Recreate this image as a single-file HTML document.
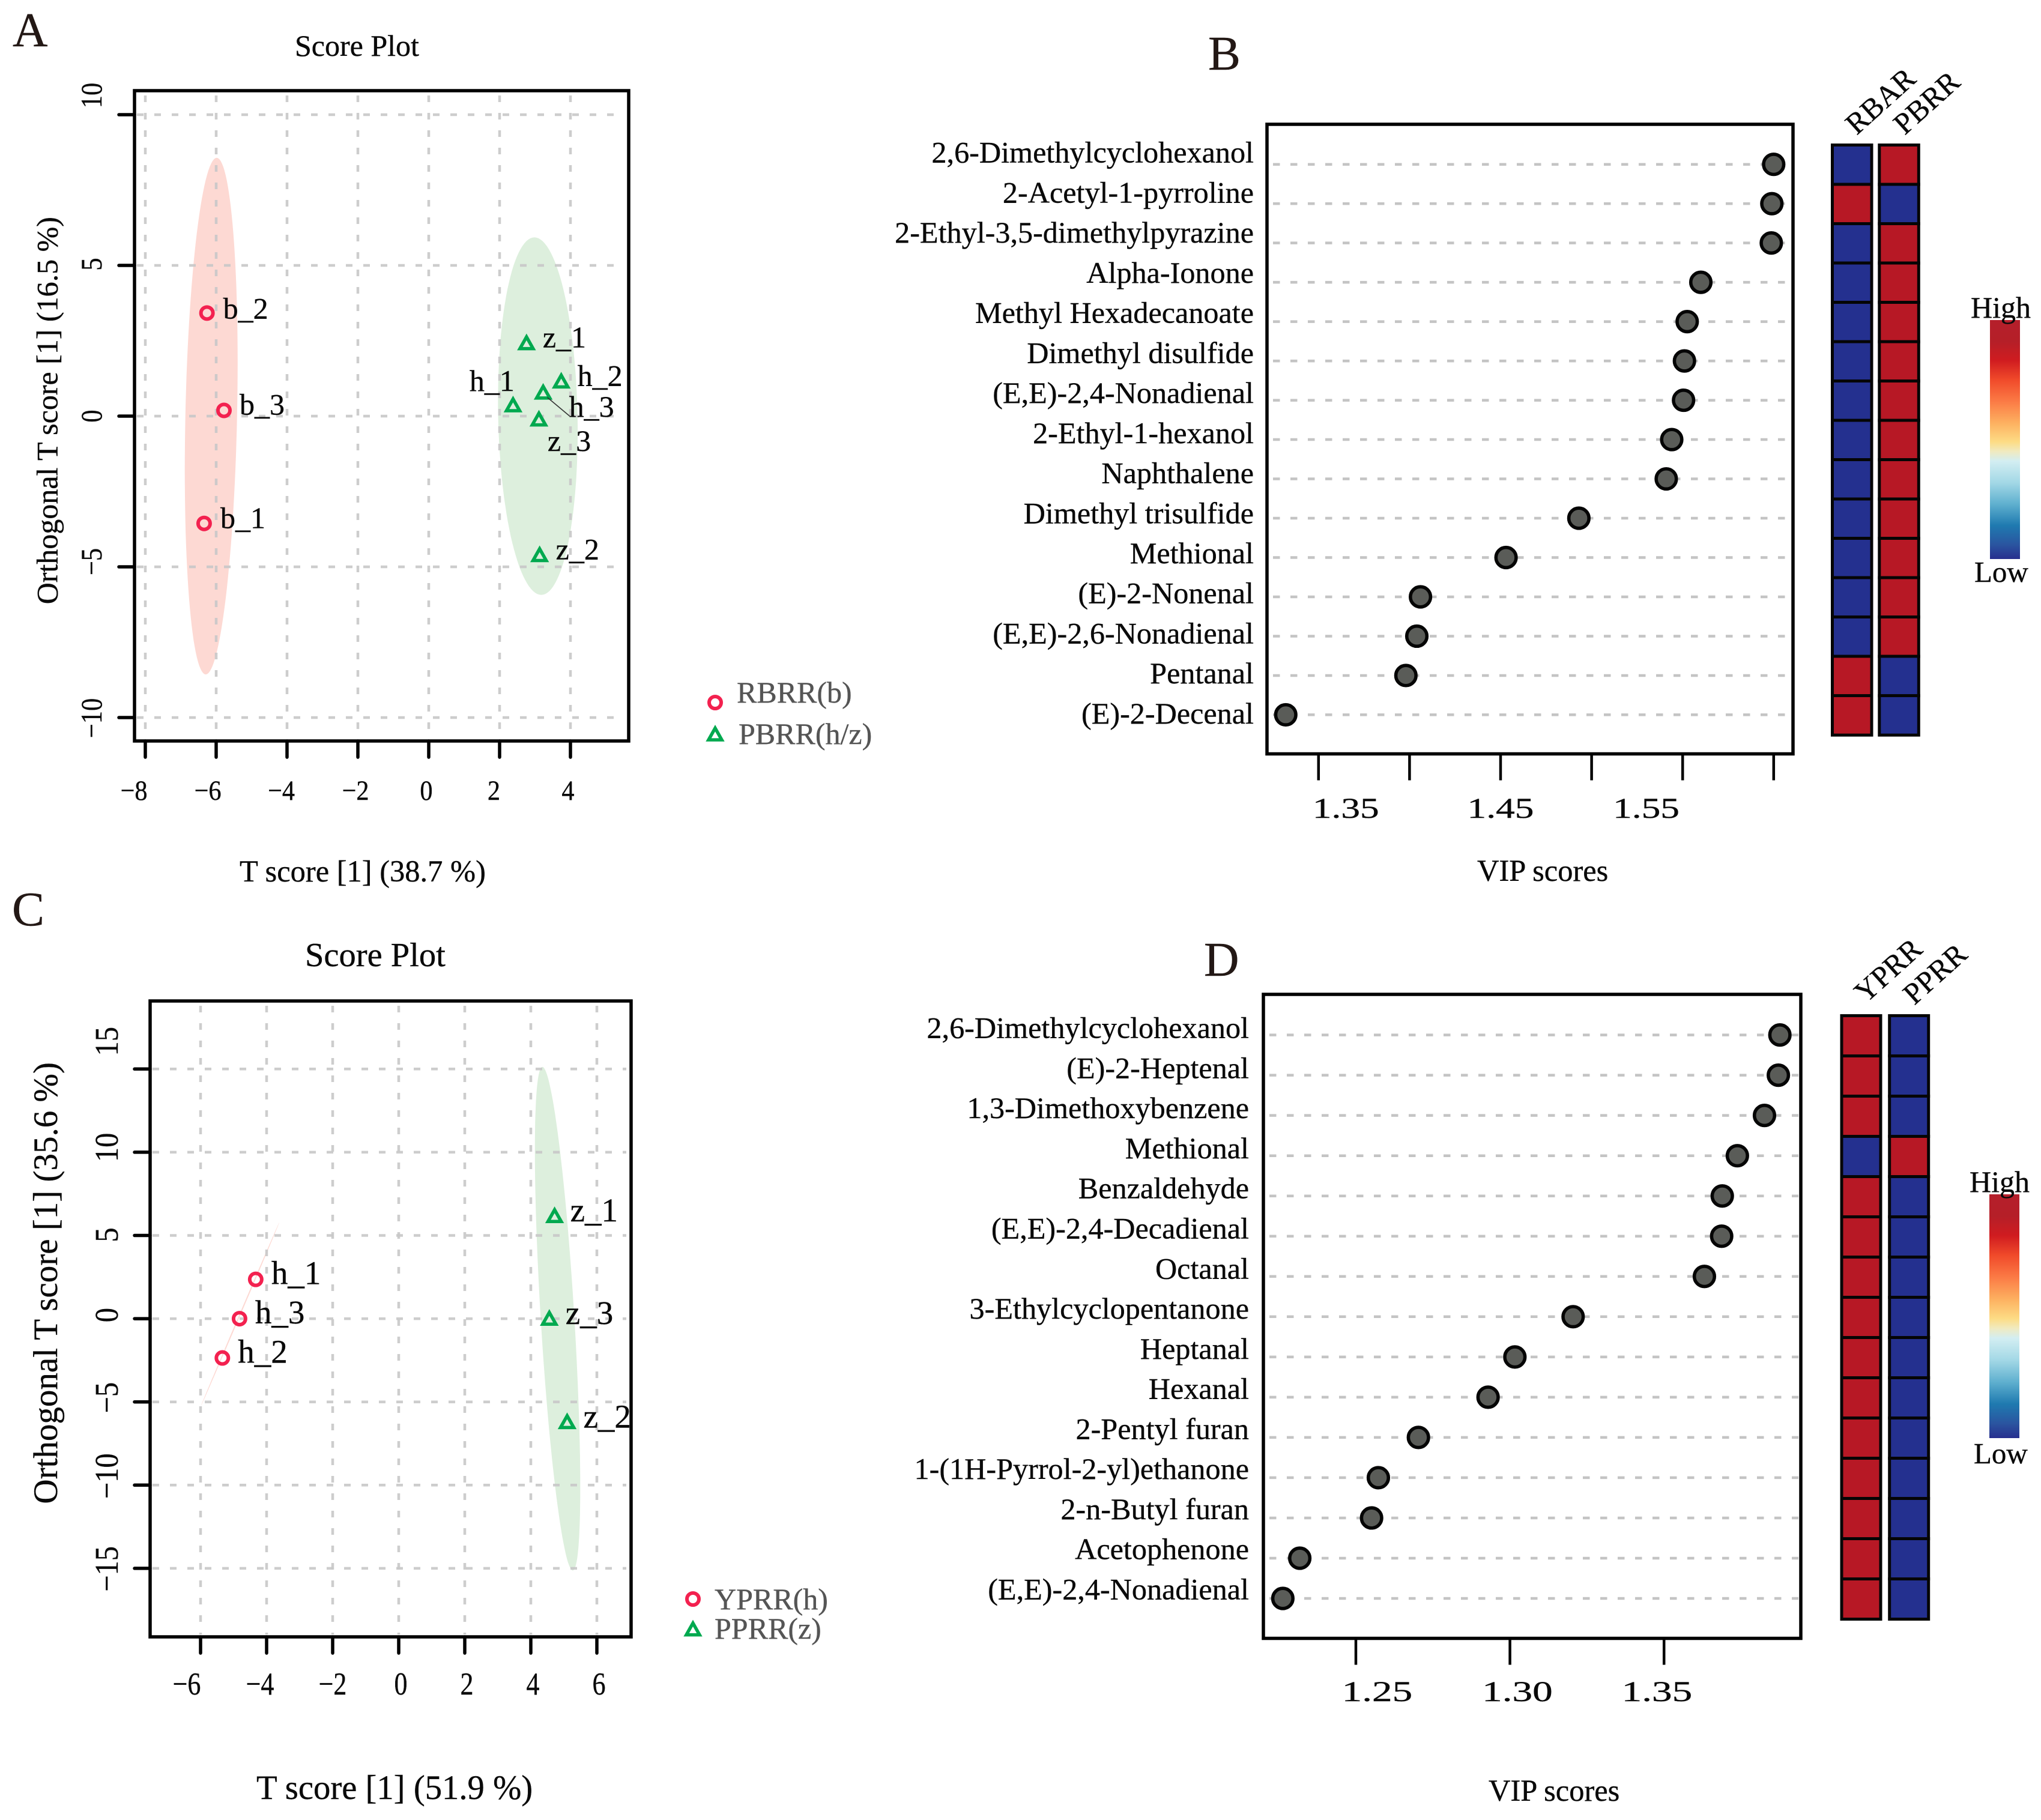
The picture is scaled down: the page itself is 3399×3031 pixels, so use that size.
<!DOCTYPE html>
<html lang="en">
<head>
<meta charset="utf-8">
<title>Score plots and VIP scores</title>
<style>
html,body{margin:0;padding:0;background:#fff;}
svg{display:block;font-family:"Liberation Serif",serif;}
text{fill:#0a0a0a;stroke:#0a0a0a;stroke-width:.4px;}
.panel-letter{font-size:81px;fill:#231815;stroke:#231815;}
.legend-text{font-size:50px;fill:#555;stroke:#555;}
</style>
</head>
<body>
<svg id="figure" xmlns="http://www.w3.org/2000/svg" width="3399" height="3031" viewBox="0 0 3399 3031">
<defs>
<linearGradient id="cb" x1="0" y1="0" x2="0" y2="1">
<stop offset="0" stop-color="#b51f2b"/><stop offset=".09" stop-color="#b51f28"/><stop offset=".17" stop-color="#d01c20"/><stop offset=".25" stop-color="#f04a2a"/><stop offset=".34" stop-color="#fb7a45"/><stop offset=".43" stop-color="#fdb060"/><stop offset=".51" stop-color="#fddc85"/><stop offset=".55" stop-color="#f0eac0"/><stop offset=".59" stop-color="#d3eef2"/><stop offset=".68" stop-color="#a3d8e6"/><stop offset=".77" stop-color="#5fb0cf"/><stop offset=".86" stop-color="#1f7ab0"/><stop offset=".94" stop-color="#2a55a0"/><stop offset="1" stop-color="#282f8e"/>
</linearGradient>
</defs>
<rect width="3399" height="3031" fill="#fff"/>

<text class="panel-letter" x="21" y="77">A</text>
<text class="panel-letter" x="2012" y="116">B</text>
<text class="panel-letter" x="20" y="1541">C</text>
<text class="panel-letter" x="2005" y="1625">D</text>

<text x="491" y="93" font-size="50">Score Plot</text>
<text x="399" y="1468" font-size="50.5">T score [1] (38.7 %)</text>
<text x="95.7" y="683.7" font-size="50" text-anchor="middle" transform="rotate(-90 95.7 683.7)">Orthogonal T score [1] (16.5 %)</text>
<text class="legend-text" x="1227" y="1170">RBRR(b)</text>
<text class="legend-text" x="1230" y="1239">PBRR(h/z)</text>

<text x="508" y="1609" font-size="56.5">Score Plot</text>
<text x="427" y="2996" font-size="56.7">T score [1] (51.9 %)</text>
<text x="95" y="2136.8" font-size="57" text-anchor="middle" transform="rotate(-90 95 2136.8)">Orthogonal T score [1] (35.6 %)</text>
<text class="legend-text" x="1190" y="2680">YPRR(h)</text>
<text class="legend-text" x="1190" y="2729">PPRR(z)</text>

<text x="2460" y="1467" font-size="50.5">VIP scores</text>
<text x="2479" y="2999" font-size="50.5">VIP scores</text>

<text x="3092" y="226" font-size="50" transform="rotate(-42 3092 226)">RBAR</text>
<text x="3172" y="226" font-size="50" transform="rotate(-42 3172 226)">PBRR</text>
<text x="3107" y="1672" font-size="50" transform="rotate(-42 3107 1672)">YPRR</text>
<text x="3188" y="1675" font-size="50" transform="rotate(-42 3188 1675)">PPRR</text>

<rect x="3314" y="533" width="50" height="398" fill="url(#cb)"/>
<text x="3282" y="529" font-size="50">High</text>
<text x="3288" y="969" font-size="49">Low</text>
<rect x="3313" y="1989" width="50" height="406" fill="url(#cb)"/>
<text x="3280" y="1985" font-size="50">High</text>
<text x="3287" y="2437" font-size="49">Low</text>
</svg>

<script>
/* ---------- Panel A data ---------- */
const scoreANames = ['b_1','b_2','b_3','h_1','h_2','h_3','z_1','z_2','z_3'];
const scoreAGroups = ['red','red','red','green','green','green','green','green','green'];
const scoreAX = [-6.34,-6.26,-5.78,2.38,3.74,3.23,2.76,3.13,3.11];
const scoreAY = [-3.56,3.42,0.19,0.40,1.19,0.82,2.46,-4.57,-0.07];
const scoreAXTicks = [-8,-6,-4,-2,0,2,4];
const scoreAYTicks = [-10,-5,0,5,10];
const scoreAXTickLabels = ['−8','−6','−4','−2','0','2','4'];
const scoreAYTickLabels = ['−10','−5','0','5','10'];
/* ellipse: centre x, centre y, major-axis x component, major-axis y component, minor half width (data units) */
const ellipseARed = [-6.14,0,0.154,8.57,0.73];
const ellipseAGreen = [3.08,0,-0.097,5.93,1.12];

/* ---------- Panel C data ---------- */
const scoreCNames = ['h_1','h_2','h_3','z_1','z_2','z_3'];
const scoreCGroups = ['red','red','red','green','green','green'];
const scoreCX = [-4.33,-5.34,-4.82,4.72,5.10,4.56];
const scoreCY = [2.36,-2.36,0,6.24,-6.14,0.07];
const scoreCXTicks = [-6,-4,-2,0,2,4,6];
const scoreCYTicks = [-15,-10,-5,0,5,10,15];
const scoreCXTickLabels = ['−6','−4','−2','0','2','4','6'];
const scoreCYTickLabels = ['−15','−10','−5','0','5','10','15'];
const ellipseCRed = [-4.8,0.28,1.18,5.49,0.02];
const ellipseCGreen = [4.81,0,-0.46,15.13,0.51];

/* ---------- Panel B data ---------- */
const vipBCompounds = ['2,6-Dimethylcyclohexanol','2-Acetyl-1-pyrroline','2-Ethyl-3,5-dimethylpyrazine','Alpha-Ionone','Methyl Hexadecanoate','Dimethyl disulfide','(E,E)-2,4-Nonadienal','2-Ethyl-1-hexanol','Naphthalene','Dimethyl trisulfide','Methional','(E)-2-Nonenal','(E,E)-2,6-Nonadienal','Pentanal','(E)-2-Decenal'];
const vipBScores = [1.600,1.599,1.5987,1.560,1.5525,1.551,1.5505,1.544,1.541,1.493,1.453,1.406,1.404,1.398,1.332];
const vipBTicks = [1.35,1.40,1.45,1.50,1.55,1.60];
const vipBTickLabels = ['1.35','1.45','1.55'];
const vipBTickLabelValues = [1.365,1.45,1.53];
const heatBFirst = [-1,1,-1,-1,-1,-1,-1,-1,-1,-1,-1,-1,-1,1,1];
const heatBSecond = [1,-1,1,1,1,1,1,1,1,1,1,1,1,-1,-1];

/* ---------- Panel D data ---------- */
const vipDCompounds = ['2,6-Dimethylcyclohexanol','(E)-2-Heptenal','1,3-Dimethoxybenzene','Methional','Benzaldehyde','(E,E)-2,4-Decadienal','Octanal','3-Ethylcyclopentanone','Heptanal','Hexanal','2-Pentyl furan','1-(1H-Pyrrol-2-yl)ethanone','2-n-Butyl furan','Acetophenone','(E,E)-2,4-Nonadienal'];
const vipDScores = [1.3876,1.3871,1.3826,1.3738,1.3689,1.3687,1.3631,1.3205,1.3016,1.2929,1.2703,1.2573,1.2551,1.2318,1.2263];
const vipDTicks = [1.25,1.30,1.35];
const vipDTickLabels = ['1.25','1.30','1.35'];
const vipDTickLabelValues = [1.2569,1.3024,1.3477];
const heatDFirst = [1,1,1,-1,1,1,1,1,1,1,1,1,1,1,1];
const heatDSecond = [-1,-1,-1,1,-1,-1,-1,-1,-1,-1,-1,-1,-1,-1,-1];

/* ---------- Helpers ---------- */
const svg = document.getElementById('figure');
const NS = 'http://www.w3.org/2000/svg';
const RED = '#f3214f';
const GREEN = '#00a94f';
const GRIDC = '#c8c8c8';

function make(tag, attrs) {
  const node = document.createElementNS(NS, tag);
  for (const k in attrs) node.setAttribute(k, attrs[k]);
  svg.appendChild(node);
  return node;
}
function squeeze(t, k) {
  if (k !== 1) {
    t.setAttribute('textLength', t.getComputedTextLength() * k);
    t.setAttribute('lengthAdjust', 'spacingAndGlyphs');
  }
}
function drawFrame(prefix, L, T, R, B) {
  const r = make('rect', {x:L, y:T, width:R-L, height:B-T, fill:'none', stroke:'#000', 'stroke-width':5.5});
  
  
}
function drawEllipse(prefix, e, xs, ys, fill) {
  const pts = [];
  for (let i = 0; i < 120; i++) {
    const t = i / 120 * Math.PI * 2;
    const dx = e[0] + e[2] * Math.cos(t) + e[4] * Math.sin(t);
    const dy = e[1] + e[3] * Math.cos(t);
    pts.push(xs(dx).toFixed(1) + ',' + ys(dy).toFixed(1));
  }
  const p = make('polygon', {points:pts.join(' '), fill:fill});
  
  
}
function drawMarker(kind, px, py) {
  if (kind === 'red') {
    return make('circle', {cx:px, cy:py, r:10, fill:'none', stroke:RED, 'stroke-width':6});
  }
  const pts = [[px, py-8.4],[px+11, py+11.1],[px-11, py+11.1]].map(a => a.join(',')).join(' ');
  return make('polygon', {points:pts, fill:'none', stroke:GREEN, 'stroke-width':5.5, 'stroke-linejoin':'miter'});
}

/* ---------- Score plots ---------- */
function drawScorePlot(cfg) {
  const p = cfg.prefix;
  drawEllipse(p + '-red', cfg.ellRed, cfg.xs, cfg.ys, '#fdd9d3');
  drawEllipse(p + '-green', cfg.ellGreen, cfg.xs, cfg.ys, '#ddefdd');

  cfg.xTicks.forEach((v, i) => {
    const g = make('line', {x1:cfg.xs(v), x2:cfg.xs(v), y1:cfg.T+8, y2:cfg.B-4, stroke:GRIDC, 'stroke-width':4.5, 'stroke-dasharray':'11 18', opacity:.9});
    
    
    const tk = make('line', {x1:cfg.xs(v), x2:cfg.xs(v), y1:cfg.B, y2:cfg.B+27, stroke:'#000', 'stroke-width':5.5, 'stroke-linecap':'round'});
    
    
    const t = make('text', {x:cfg.xs(v)+cfg.xLabelShift[i], y:cfg.xLabelY, 'font-size':cfg.xFont, 'text-anchor':'middle'});
    t.textContent = cfg.xLabels[i];
    
    
    squeeze(t, cfg.xSqueeze);
  });
  cfg.yTicks.forEach((v, i) => {
    const g = make('line', {x1:cfg.L+4, x2:cfg.R-8, y1:cfg.ys(v), y2:cfg.ys(v), stroke:GRIDC, 'stroke-width':4.5, 'stroke-dasharray':'11 18', opacity:.9});
    
    
    const tk = make('line', {x1:cfg.L-26, x2:cfg.L, y1:cfg.ys(v), y2:cfg.ys(v), stroke:'#000', 'stroke-width':5.5, 'stroke-linecap':'round'});
    
    
    const cy = cfg.ys(v) + cfg.yLabelShift[i];
    const t = make('text', {x:cfg.yLabelX, y:cy, 'font-size':cfg.yFont, 'text-anchor':'middle', transform:'rotate(-90 '+cfg.yLabelX+' '+cy+')'});
    t.textContent = cfg.yLabels[i];
    
    
    squeeze(t, cfg.ySqueeze);
  });
  drawFrame(p, cfg.L, cfg.T, cfg.R, cfg.B);

  cfg.names.forEach((n, i) => {
    const px = cfg.xs(cfg.x[i]);
    const py = cfg.ys(cfg.y[i]);
    const m = drawMarker(cfg.groups[i], px, py);
    
    
    const o = cfg.nudge[n] || cfg.defaultNudge;
    const t = make('text', {x:px+o[0], y:py+o[1], 'font-size':cfg.pointFont, fill:'#000'});
    t.textContent = n;
    
    
    if (cfg.leader && cfg.leader === n) {
      const l = make('line', {x1:px+7, y1:py+10, x2:px+44, y2:py+41, stroke:'#333', 'stroke-width':1.6});
      
      
    }
  });

  const lc = drawMarker('red', cfg.legendX, cfg.legendRedY);
  
  
  const lt = drawMarker('green', cfg.legendX, cfg.legendGreenY);
  
  
}

drawScorePlot({
  prefix:'panel-a', L:224, T:151, R:1047, B:1234,
  xs:v => 714 + 59 * v, ys:v => 693 - 50.2 * v,
  names:scoreANames, groups:scoreAGroups, x:scoreAX, y:scoreAY,
  xTicks:scoreAXTicks, yTicks:scoreAYTicks, xLabels:scoreAXTickLabels, yLabels:scoreAYTickLabels,
  xLabelShift:[-19,-14,-9.5,-4,-4,-9.5,-4], yLabelShift:[1,-8.5,0,-2,-32],
  xLabelY:1332, yLabelX:169, xFont:47, yFont:50, xSqueeze:.9, ySqueeze:.85,
  ellRed:ellipseARed, ellGreen:ellipseAGreen, pointFont:50,
  defaultNudge:[27,9], nudge:{'b_3':[26,7],'b_1':[27,8],'h_1':[-72.5,-22],'h_3':[43,42],'z_3':[14.4,54.5]},
  leader:'h_3', legendX:1191, legendRedY:1170, legendGreenY:1221
});
drawScorePlot({
  prefix:'panel-c', L:250, T:1667, R:1051, B:2726,
  xs:v => 664 + 55 * v, ys:v => 2196.1 - 27.72 * v,
  names:scoreCNames, groups:scoreCGroups, x:scoreCX, y:scoreCY,
  xTicks:scoreCXTicks, yTicks:scoreCYTicks, xLabels:scoreCXTickLabels, yLabels:scoreCYTickLabels,
  xLabelShift:[-23,-11,0,3.5,3.5,3.5,3.5], yLabelShift:[1,-15,-7,-6,-1,-8,-46],
  xLabelY:2822, yLabelX:196, xFont:53, yFont:55, xSqueeze:.83, ySqueeze:.88,
  ellRed:ellipseCRed, ellGreen:ellipseCGreen, pointFont:55,
  defaultNudge:[26,8], nudge:{'z_1':[26,11],'z_2':[27,11],'z_3':[27,11]},
  leader:null, legendX:1154, legendRedY:2663, legendGreenY:2711.5
});

/* ---------- VIP dot plots with heatmaps ---------- */
function heatColor(v) { return v > 0 ? '#b71825' : '#24308f'; }

function drawVip(cfg) {
  const p = cfg.prefix;
  cfg.names.forEach((n, i) => {
    const ry = cfg.rowY(i);
    const g = make('line', {x1:cfg.L+10, x2:cfg.R-4, y1:ry, y2:ry, stroke:'#c4c4c4', 'stroke-width':4.5, 'stroke-dasharray':'11.5 17.5'});
    
    
  });
  drawFrame(p, cfg.L, cfg.T, cfg.R, cfg.B);
  cfg.ticks.forEach(v => {
    const tk = make('line', {x1:cfg.xs(v), x2:cfg.xs(v), y1:cfg.B, y2:cfg.B+44, stroke:'#000', 'stroke-width':4.5});
    
    
  });
  cfg.tickLabels.forEach((s, i) => {
    const t = make('text', {x:cfg.xs(cfg.tickLabelAt[i]), y:cfg.tickLabelY, 'font-size':48, 'text-anchor':'middle'});
    t.textContent = s;
    
    
    squeeze(t, cfg.tickSqueeze);
  });
  cfg.names.forEach((n, i) => {
    const ry = cfg.rowY(i);
    const c = make('circle', {cx:cfg.xs(cfg.values[i]), cy:ry, r:16.8, fill:'#5a5c58', stroke:'#050505', 'stroke-width':5.6});
    
    
    const t = make('text', {x:cfg.labelX, y:ry+cfg.labelDy(i), 'font-size':50.2, 'text-anchor':'end', fill:'#231815'});
    t.textContent = n;
    
    
  });
  [cfg.heatA, cfg.heatB].forEach((col, j) => {
    const x0 = cfg.heatX[j];
    col.forEach((v, i) => {
      const r = make('rect', {x:x0, y:cfg.heatY(i), width:cfg.heatW, height:cfg.heatH, fill:heatColor(v), stroke:'#050505', 'stroke-width':5});
      
      
    });
  });
}

drawVip({
  prefix:'panel-b', L:2110, T:207, R:2986, B:1255.5,
  xs:v => 2195.8 + (v - 1.35) * 3032,
  rowY:i => 273.7 + 65.48 * i,
  names:vipBCompounds, values:vipBScores, ticks:vipBTicks,
  tickLabels:vipBTickLabels, tickLabelAt:vipBTickLabelValues, tickLabelY:1362, tickSqueeze:1.32,
  labelX:2088, labelDy:i => -3 + 1.25 * i,
  heatA:heatBFirst, heatB:heatBSecond, heatX:[3051.5,3129.8], heatW:65.5, heatH:65.7, heatY:i => 241.5 + 65.5 * i
});
drawVip({
  prefix:'panel-d', L:2104, T:1656, R:2999, B:2728.5,
  xs:v => 2258 + (v - 1.25) * 5132,
  rowY:i => 1723.6 + 67.03 * i,
  names:vipDCompounds, values:vipDScores, ticks:vipDTicks,
  tickLabels:vipDTickLabels, tickLabelAt:vipDTickLabelValues, tickLabelY:2833, tickSqueeze:1.4,
  labelX:2080, labelDy:i => 5 - 0.25 * i,
  heatA:heatDFirst, heatB:heatDSecond, heatX:[3067,3146.7], heatW:65,  heatH:67, heatY:i => 1691.5 + 67 * i
});
</script>
</body>
</html>
